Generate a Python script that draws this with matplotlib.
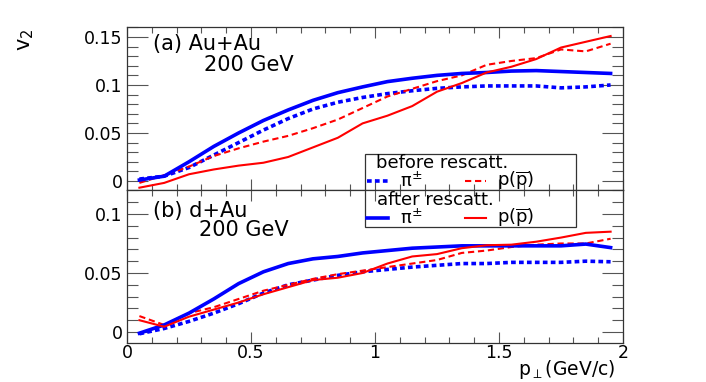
import matplotlib
matplotlib.use("Agg")
import matplotlib.pyplot as plt
from matplotlib.patches import Rectangle
from matplotlib.lines import Line2D

plt.rcParams['font.family'] = ['DejaVu Sans']
plt.rcParams['mathtext.fontset'] = 'dejavusans'

# pT bin centres (GeV/c)
pt = [0.05, 0.15, 0.25, 0.35, 0.45, 0.55, 0.65, 0.75, 0.85, 0.95,
      1.05, 1.15, 1.25, 1.35, 1.45, 1.55, 1.65, 1.75, 1.85, 1.95]

# (a) Au+Au
pi_before_au = [0.002, 0.005, 0.014, 0.027, 0.040, 0.053, 0.065, 0.075, 0.082, 0.087,
                0.091, 0.094, 0.0965, 0.098, 0.099, 0.099, 0.099, 0.097, 0.098, 0.100]
p_before_au = [-0.002, 0.006, 0.015, 0.026, 0.034, 0.041, 0.047, 0.055, 0.064, 0.076,
               0.088, 0.096, 0.104, 0.110, 0.121, 0.125, 0.128, 0.137, 0.135, 0.143]
pi_after_au = [0.001, 0.005, 0.020, 0.036, 0.050, 0.063, 0.074, 0.084, 0.092, 0.098,
               0.1035, 0.107, 0.110, 0.112, 0.113, 0.1145, 0.115, 0.114, 0.113, 0.112]
p_after_au = [-0.007, -0.002, 0.007, 0.012, 0.016, 0.019, 0.025, 0.035, 0.045, 0.060,
              0.068, 0.078, 0.093, 0.102, 0.113, 0.119, 0.127, 0.139, 0.145, 0.151]

# (b) d+Au
pi_before_da = [-0.0015, 0.003, 0.009, 0.016, 0.024, 0.033, 0.040, 0.044, 0.048, 0.051,
                0.053, 0.055, 0.0565, 0.058, 0.058, 0.059, 0.059, 0.059, 0.060, 0.0595]
p_before_da = [0.0135, 0.006, 0.016, 0.021, 0.028, 0.035, 0.040, 0.045, 0.049, 0.052,
               0.055, 0.058, 0.061, 0.067, 0.069, 0.072, 0.074, 0.075, 0.075, 0.079]
pi_after_da = [-0.001, 0.006, 0.016, 0.028, 0.041, 0.051, 0.058, 0.062, 0.064, 0.067,
               0.069, 0.071, 0.072, 0.073, 0.073, 0.073, 0.073, 0.073, 0.0745, 0.0715]
p_after_da = [0.010, 0.0045, 0.013, 0.019, 0.025, 0.032, 0.038, 0.044, 0.046, 0.050,
              0.058, 0.064, 0.066, 0.071, 0.0735, 0.074, 0.0765, 0.080, 0.084, 0.085]

xticks = [0, 0.5, 1, 1.5, 2]
xticklabels = ["0", "0.5", "1", "1.5", "2"]
yticks_a = [0, 0.05, 0.1, 0.15]
yticklabels_a = ["0", "0.05", "0.1", "0.15"]
yticks_b = [0, 0.05, 0.1]
yticklabels_b = ["0", "0.05", "0.1"]

W, H = 706, 382
fig = plt.figure(figsize=(W / 100, H / 100), dpi=100)

def fx(px):
    return px / W

def fy(py):
    return 1 - py / H

ax_a = fig.add_axes([fx(127), fy(190), fx(623) - fx(127), fy(27) - fy(190)])
ax_b = fig.add_axes([fx(127), fy(343), fx(623) - fx(127), fy(190) - fy(343)])

sty = {
    'pi_before': dict(color='#0000ff', lw=2.6, ls=(0, (1.3, 0.9))),
    'p_before': dict(color='#ff0000', lw=1.5, ls=(0, (3.0, 1.8))),
    'pi_after': dict(color='#0000ff', lw=2.6, ls='-'),
    'p_after': dict(color='#ff0000', lw=1.5, ls='-'),
}

ax_a.plot(pt, pi_before_au, **sty['pi_before'])
ax_a.plot(pt, p_before_au, **sty['p_before'])
ax_a.plot(pt, pi_after_au, **sty['pi_after'])
ax_a.plot(pt, p_after_au, **sty['p_after'])

ax_b.plot(pt, pi_before_da, **sty['pi_before'])
ax_b.plot(pt, p_before_da, **sty['p_before'])
ax_b.plot(pt, pi_after_da, **sty['pi_after'])
ax_b.plot(pt, p_after_da, **sty['p_after'])

ax_a.set_ylim(-0.0094, 0.1604)
ax_b.set_ylim(-0.0093, 0.1203)

for ax in (ax_a, ax_b):
    ax.set_xlim(0, 2)
    ax.set_xticks(xticks)
    ax.set_xticks([i / 10 for i in range(21)], minor=True)
    ax.tick_params(which='both', direction='in', top=True, right=True,
                   width=0.8, color='#555555', labelsize=12.5)
    ax.tick_params(axis='y', which='major', length=15, pad=3)
    ax.tick_params(axis='y', which='minor', length=8)
    ax.tick_params(axis='x', which='major', length=8, pad=1)
    ax.tick_params(axis='x', which='minor', length=4)
    for s in ax.spines.values():
        s.set_linewidth(0.9)
        s.set_color('#333333')

ax_a.set_yticks(yticks_a)
ax_a.set_yticklabels(yticklabels_a)
ax_a.set_yticks([i / 100 for i in range(0, 17)], minor=True)
ax_a.set_xticklabels([])

ax_b.set_yticks(yticks_b)
ax_b.set_yticklabels(yticklabels_b)
ax_b.set_yticks([i / 100 for i in range(0, 13)], minor=True)
ax_b.set_xticklabels(xticklabels)

# panel labels
fig.text(fx(153), fy(44), "(a) Au+Au", fontsize=15, va='center', ha='left')
fig.text(fx(204), fy(65), "200 GeV", fontsize=15, va='center', ha='left')
fig.text(fx(153), fy(211), "(b) d+Au", fontsize=15, va='center', ha='left')
fig.text(fx(199), fy(230), "200 GeV", fontsize=15, va='center', ha='left')

# axis titles
fig.text(fx(26), fy(40), r"v$_{2}$", fontsize=15, rotation=90, va='center', ha='center')
fig.text(fx(615), fy(375), r"p$_{\perp}$(GeV/c)", fontsize=13.5, va='baseline', ha='right')

# legend box spanning both panels
fig.add_artist(Rectangle((fx(365), fy(227)), fx(576) - fx(365), fy(154) - fy(227),
                         transform=fig.transFigure, fill=False, ec='#333333', lw=0.9))
fig.text(fx(376), fy(163), "before rescatt.", fontsize=13, va='center', ha='left')
fig.text(fx(377), fy(200), "after rescatt.", fontsize=13, va='center', ha='left')

rows = [(181, 'pi_before', 'p_before'), (218, 'pi_after', 'p_after')]
for yrow, k_pi, k_p in rows:
    fig.add_artist(Line2D([fx(367), fx(388)], [fy(yrow), fy(yrow)],
                          transform=fig.transFigure, **sty[k_pi]))
    fig.add_artist(Line2D([fx(465), fx(486)], [fy(yrow), fy(yrow)],
                          transform=fig.transFigure, **sty[k_p]))
    fig.text(fx(400), fy(yrow), r"π$^{\pm}$", fontsize=13, va='center', ha='left')
    fig.text(fx(497), fy(yrow), r"p($\overline{\mathrm{p}}$)", fontsize=13,
             va='center', ha='left')

fig.savefig("out.png", dpi=100)
